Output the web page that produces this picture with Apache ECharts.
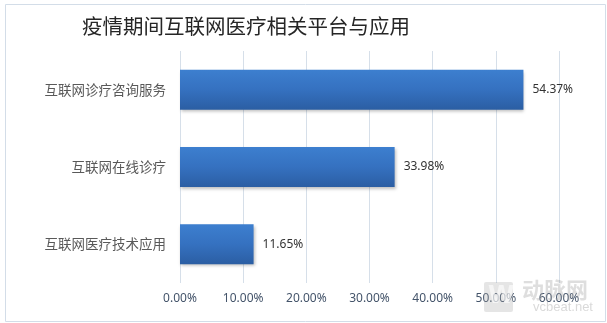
<!DOCTYPE html>
<html><head><meta charset="utf-8">
<script src="https://cdn.jsdelivr.net/npm/echarts@6/dist/echarts.min.js"></script>
<style>html,body{margin:0;padding:0;background:#fff}#c{width:607px;height:323px}</style>
</head><body><div id="c"></div>
<script>
const titleText = '疫情期间互联网医疗相关平台与应用';
const categories = ['互联网医疗技术应用', '互联网在线诊疗', '互联网诊疗咨询服务'];
const values = [11.65, 33.98, 54.37];
const axisTicks = [0, 10, 20, 30, 40, 50, 60];

const chart = echarts.init(document.getElementById('c'));
chart.setOption({
  animation: false,
  title: {
    text: titleText, left: 77, top: 11,
    textStyle: {fontFamily: 'Noto Sans CJK SC', fontWeight: 'normal', fontSize: 20.5, color: '#262626'}
  },
  grid: {left: 180, right: 48, top: 51, bottom: 40},
  xAxis: {
    type: 'value', min: axisTicks[0], max: axisTicks[axisTicks.length - 1], interval: 10,
    axisLine: {show: false}, axisTick: {show: false},
    splitLine: {lineStyle: {color: '#d6dfe9', width: 1}},
    axisLabel: {formatter: v => v.toFixed(2) + '%', color: '#44546a', fontSize: 12,
      fontFamily: 'Noto Sans', margin: 10}
  },
  yAxis: {
    type: 'category', data: categories,
    axisLine: {show: false}, axisTick: {show: false},
    axisLabel: {color: '#595959', fontSize: 13.5, fontFamily: 'Noto Sans CJK SC', margin: 14}
  },
  series: [{
    type: 'bar', data: values, barWidth: 40,
    itemStyle: {
      color: new echarts.graphic.LinearGradient(0, 0, 0, 1, [
        {offset: 0, color: '#3d7fcf'}, {offset: 0.5, color: '#3571c0'}, {offset: 1, color: '#2b5ea3'}]),
      shadowColor: 'rgba(0,0,0,0.25)', shadowBlur: 3, shadowOffsetX: 1, shadowOffsetY: 2
    },
    label: {show: true, position: 'right', distance: 9, formatter: p => p.value.toFixed(2) + '%',
      color: '#333', fontSize: 12, fontFamily: 'Noto Sans'}
  }],
  graphic: [
    {type: 'rect', left: 3, top: 2, shape: {width: 600, height: 317},
      style: {fill: 'none', stroke: '#d3dde8', lineWidth: 1}, silent: true},
    {type: 'rect', left: 484, top: 282, shape: {width: 29, height: 30, r: 2},
      style: {fill: 'rgba(170,170,170,0.3)'}, silent: true, z: 100},
    {type: 'text', left: 488, top: 285, style: {text: 'W', fontSize: 24, fontWeight: 'bold',
      fill: 'rgba(255,255,255,0.6)', fontFamily: 'DejaVu Sans'}, silent: true, z: 101},
    {type: 'text', left: 522, top: 279, style: {text: '动脉网', fontSize: 22, fontWeight: 'bold',
      fill: 'rgba(160,160,160,0.35)', fontFamily: 'Noto Sans CJK SC'}, silent: true, z: 100},
    {type: 'text', left: 533, top: 301, style: {text: 'vcbeat.net', fontSize: 13,
      fill: 'rgba(160,160,160,0.4)', fontFamily: 'Liberation Sans'}, silent: true, z: 100}
  ]
});
</script></body></html>
